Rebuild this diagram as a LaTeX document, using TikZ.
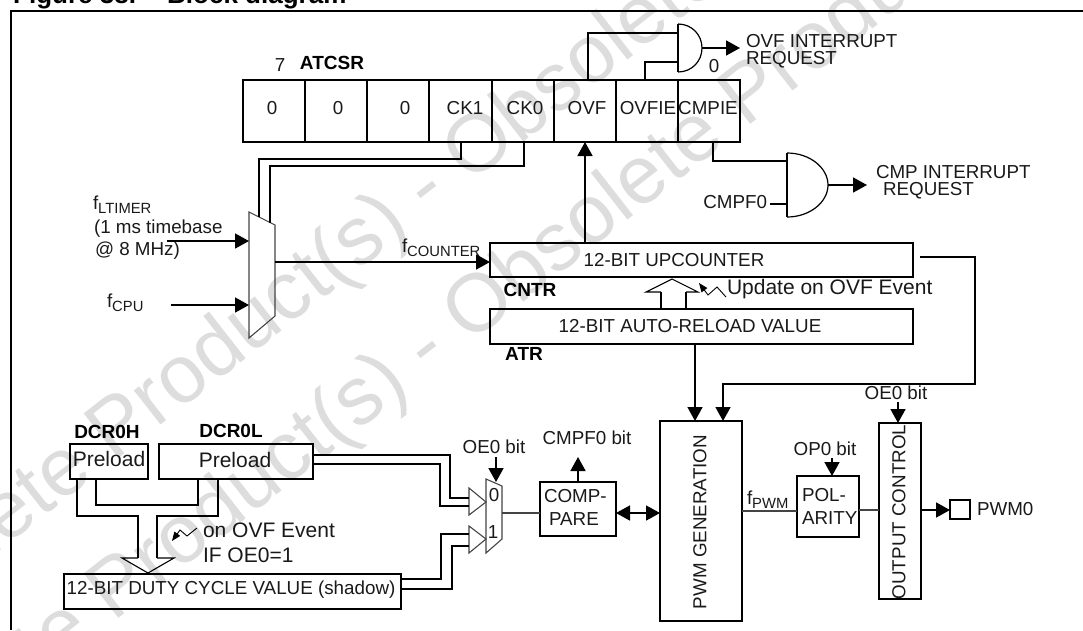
\documentclass[tikz,border=0pt]{standalone}
\usepackage{fontspec}
\setmainfont{Liberation Sans}
\usetikzlibrary{arrows.meta}
\definecolor{wm}{HTML}{DDDDDD}
\definecolor{thinc}{HTML}{444444}
\newcommand{\lowsub}[1]{\raisebox{-4.5pt}{\fontsize{14.8}{18}\selectfont #1}}
\tikzset{
  x=1pt,y=-1pt,
  box/.style={draw=black,line width=1.7pt,inner sep=0pt,outer sep=0pt,align=center,font=\fontsize{19}{22}\selectfont},
  lbl/.style={inner sep=0pt,outer sep=0pt,font=\fontsize{18.8}{22}\selectfont,text=black!90},
  biglbl/.style={lbl,font=\fontsize{21}{24}\selectfont},
  blbl/.style={inner sep=0pt,outer sep=0pt,font=\fontsize{19}{22}\selectfont\bfseries},
  wire/.style={line width=1.7pt,line join=miter},
  sig/.style={wire,-{Triangle[length=14pt,width=15pt]}},
  sigb/.style={wire,{Triangle[length=14pt,width=15pt]}-{Triangle[length=14pt,width=15pt]}},
  thinw/.style={line width=1.1pt,draw=thinc},
  zig/.style={line width=.9pt,-{Triangle[length=9pt,width=7pt]}},
  wmark/.style={inner sep=0pt,outer sep=0pt,text=wm,rotate=38,anchor=west,font=\fontsize{82}{90}\selectfont},
}
\begin{document}
\begin{tikzpicture}
\useasboundingbox (0,0) rectangle (1083,630);
% watermark
\node[wmark] (w1) at (-176,661.5) {Obsolete Product(s) - Obsolete Product(s)};
\node[wmark] (w2) at (-176,821.5) {Obsolete Product(s) - Obsolete Product(s)};
% frame
\node[anchor=base west,inner sep=0pt,font=\fontsize{26}{28}\selectfont\bfseries] (title) at (13,3) {Figure 38.\hspace{1.2em}Block diagram};
\coordinate (fTL) at (11,11); \coordinate (fTR) at (1083,11); \coordinate (fBL) at (11,630);
\draw[wire] (fBL) -- (fTL) -- (fTR);
% ATCSR
\foreach \nm/\xa in {r7/274,r6/336,r5/398,r4/460.5,r3/523,r2/585,r1/647,r0/709}{
  \node[box,minimum width=62pt,minimum height=62pt] (\nm) at (\xa,111) {};
}
\node[lbl] (t7) at (272,108) {0};
\node[lbl] (t6) at (338,108) {0};
\node[lbl] (t5) at (405,108) {0};
\node[lbl] (t4) at (465,108) {CK1};
\node[lbl] (t3) at (525,108) {CK0};
\node[lbl] (t2) at (587,108) {OVF};
\node[lbl] (t1) at (648,108) {OVFIE};
\node[lbl] (t0) at (708,108) {CMPIE};
\node[lbl] (seven) at (280,65) {7};
\node[blbl] (atcsr) at (332,63) {ATCSR};
% clock mux
\coordinate (ma) at (249,212); \coordinate (mb) at (275,225); \coordinate (mc) at (275,316); \coordinate (md) at (249,338);
\draw[thinw] (ma) -- (mb) -- (mc) -- (md) -- cycle;
\coordinate (ck1a) at (461,142); \coordinate (ck1b) at (461,159); \coordinate (ck1c) at (259,159); \coordinate (ck1d) at (259,217);
\coordinate (ck0a) at (524,142); \coordinate (ck0b) at (524,166); \coordinate (ck0c) at (270,166); \coordinate (ck0d) at (270,223);
\draw[wire] (ck1a) -- (ck1b) -- (ck1c) -- (ck1d);
\draw[wire] (ck0a) -- (ck0b) -- (ck0c) -- (ck0d);
\node[lbl,anchor=base west] (ltimer) at (93,209) {f\lowsub{LTIMER}};
\node[lbl,anchor=west] (ltimer2) at (94,229) {(1 ms timebase};
\node[lbl,anchor=west] (ltimer3) at (95,251) {@ 8 MHz)};
\node[lbl,anchor=base west] (fcpu) at (107,307) {f\lowsub{CPU}};
\coordinate (la) at (167,241); \coordinate (lb) at (249,241);
\coordinate (ca) at (171,305); \coordinate (cb) at (249,305);
\draw[sig] (la) -- (lb);
\draw[sig] (ca) -- (cb);
% counter
\node[box,minimum width=423pt,minimum height=34pt] (cntr) at (701.5,260) {};
\node[lbl] (cntrt) at (674,260) {12-BIT UPCOUNTER};
\node[box,minimum width=423pt,minimum height=35pt] (atr) at (701.5,326.5) {};
\node[lbl] (atrt) at (690,326) {12-BIT AUTO-RELOAD VALUE};
\node[blbl] (cntrl) at (530,290) {CNTR};
\node[blbl] (atrl) at (524,354) {ATR};
\coordinate (mo) at (275,262);
\draw[sig] (mo) -- (cntr.west |- mo);
\node[lbl,anchor=base west] (fcnt) at (402,252) {f\lowsub{COUNTER}};
\coordinate (ovfin) at (585,243); \coordinate (ovfout) at (585,142);
\draw[sig] (ovfin) -- (ovfout);
% hollow arrow
\coordinate (ha) at (661,309); \coordinate (hb) at (661,292); \coordinate (hc) at (646,292); \coordinate (hd) at (672,279); \coordinate (he) at (698,292); \coordinate (hf) at (686,292); \coordinate (hg) at (686,309);
\draw[wire] (ha) -- (hb);\draw[wire] (hf) -- (hg);
\draw[thinw,draw=black] (hb) -- (hc) -- (hd) -- (he) -- (hf);
\coordinate (za) at (726,297); \coordinate (zb) at (717,287); \coordinate (zc) at (708,295); \coordinate (zd) at (699,283);
\draw[zig] (za) -- (zb) -- (zc) -- (zd);
\node[biglbl,anchor=west] (upd) at (727,289) {Update on OVF Event};
% right loop
\coordinate (ra) at (920,257); \coordinate (rb) at (975,257); \coordinate (rc) at (975,384); \coordinate (rd) at (723,384);
\node[box,minimum width=82pt,minimum height=200pt] (pwm) at (701,521) {};
\node[lbl,rotate=90] (pwmt) at (700,522) {PWM GENERATION};
\draw[sig] (ra) -- (rb) -- (rc) -- (rd) -- (rd |- pwm.north);
\coordinate (atro) at (695,344);
\draw[sig] (atro) -- (atro |- pwm.north);
% output control
\node[box,minimum width=42pt,minimum height=176pt] (oc) at (900,511) {};
\node[lbl,rotate=90] (oct) at (899,512) {OUTPUT CONTROL};
\node[lbl] (oe1) at (896,393) {OE0 bit};
\coordinate (oea) at (898,402);
\draw[sig] (oea) -- (oea |- oc.north);
% polarity
\node[box,minimum width=62pt,minimum height=61pt] (pol) at (828,506.5) {};
\node[lbl,anchor=west] (polt) at (802,495) {POL-};
\node[lbl,anchor=west] (polt2) at (802,518) {ARITY};
\node[lbl] (op0) at (825,449) {OP0 bit};
\coordinate (opa) at (832,458);
\draw[sig] (opa) -- (opa |- pol.north);
\coordinate (pwo) at (742,511);
\draw[thinw] (pwo) -- (pwo -| pol.west);
\node[lbl,anchor=base west] (fpwm) at (747,504) {f\lowsub{PWM}};
\coordinate (polo) at (859,510);
\draw[thinw] (polo) -- (polo -| oc.west);
\node[box,minimum width=20pt,minimum height=19pt] (pad) at (960,509.5) {};
\node[lbl,anchor=west] (padt) at (977,509) {PWM0};
\coordinate (oco) at (921,510);
\draw[sig] (oco) -- (oco -| pad.west);
% compare
\node[box,minimum width=76pt,minimum height=54pt] (cmp) at (578,509) {};
\node[lbl,anchor=west] (cmpt) at (544,496) {COMP-};
\node[lbl,anchor=west] (cmpt2) at (549,519) {PARE};
\coordinate (cmo) at (616,513); \coordinate (pwi) at (660,513);
\draw[sigb] (cmo) -- (pwi);
\coordinate (cfb) at (578,457);
\draw[sig] (cmp.north -| cfb) -- (cfb);
\node[lbl] (cmpf) at (587,438) {CMPF0 bit};
% data mux
\node[lbl] (oe2) at (494,447) {OE0 bit};
\coordinate (oeb) at (496,457); \coordinate (oec) at (496,482);
\draw[sig] (oeb) -- (oec);
\coordinate (na) at (486,479); \coordinate (nb) at (502,486); \coordinate (nc) at (502,539); \coordinate (nd) at (486,553);
\draw[thinw] (na) -- (nb) -- (nc) -- (nd) -- cycle;
\node[lbl] (m0) at (494,495) {0};
\node[lbl] (m1) at (493,532) {1};
\coordinate (nout) at (502,513);
\draw[thinw] (nout) -- (nout -| cmp.west);
\coordinate (t1a) at (469,488); \coordinate (t1b) at (486,502); \coordinate (t1c) at (469,515);
\coordinate (t2a) at (469,526); \coordinate (t2b) at (486,539); \coordinate (t2c) at (469,553);
\draw[thinw] (t1a) -- (t1b) -- (t1c) -- cycle;
\draw[thinw] (t2a) -- (t2b) -- (t2c) -- cycle;
% DCR
\node[box,minimum width=78pt,minimum height=35pt] (dh) at (109,461.5) {};
\node[biglbl] (dht) at (109,459) {Preload};
\node[box,minimum width=154pt,minimum height=35pt] (dl) at (236,461.5) {};
\node[biglbl] (dlt) at (235,460) {Preload};
\node[blbl] (dhl) at (107,432) {DCR0H};
\node[blbl] (dll) at (231,431) {DCR0L};
\node[box,minimum width=337pt,minimum height=35pt] (dty) at (232.5,591.5) {};
\node[lbl] (dtyt) at (231,590) {12-BIT DUTY CYCLE VALUE (shadow)};
\coordinate (a1) at (313,455); \coordinate (a2) at (450,455); \coordinate (a3) at (450,498); \coordinate (a4) at (469,498);
\coordinate (b1) at (313,464); \coordinate (b2) at (440,464); \coordinate (b3) at (440,506); \coordinate (b4) at (469,506);
\coordinate (c1) at (401,579); \coordinate (c2) at (441,579); \coordinate (c3) at (441,534); \coordinate (c4) at (469,534);
\coordinate (d1) at (401,589); \coordinate (d2) at (452,589); \coordinate (d3) at (452,546); \coordinate (d4) at (469,546);
\draw[wire] (a1) -- (a2) -- (a3) -- (a4);
\draw[wire] (b1) -- (b2) -- (b3) -- (b4);
\draw[wire] (c1) -- (c2) -- (c3) -- (c4);
\draw[wire] (d1) -- (d2) -- (d3) -- (d4);
% hollow bus
\coordinate (e1) at (77,479); \coordinate (e2) at (77,516); \coordinate (e3) at (138,516); \coordinate (e4) at (138,558);
\coordinate (e5) at (122,558); \coordinate (e6) at (148,573); \coordinate (e7) at (174,558); \coordinate (e8) at (157,558);
\coordinate (e9) at (157,516); \coordinate (e10) at (218,516); \coordinate (e11) at (218,479);
\coordinate (f1) at (96,479); \coordinate (f2) at (96,505); \coordinate (f3) at (198,505); \coordinate (f4) at (198,479);
\draw[wire] (e1) -- (e2) -- (e3) -- (e4);
\draw[thinw,draw=black] (e4) -- (e5) -- (e6) -- (e7) -- (e8);
\draw[wire] (e8) -- (e9) -- (e10) -- (e11);
\draw[wire] (f1) -- (f2) -- (f3) -- (f4);
\coordinate (g1) at (197,528); \coordinate (g2) at (187,536); \coordinate (g3) at (180,530); \coordinate (g4) at (172,541);
\draw[zig] (g1) -- (g2) -- (g3) -- (g4);
\node[biglbl,anchor=west] (ev1) at (203,530) {on OVF Event};
\node[biglbl,anchor=west] (ev2) at (203,555) {IF OE0=1};
% OVF gate
\coordinate (ga) at (678,24); \coordinate (gb) at (678,72); \coordinate (gc) at (702,48);
\draw[wire] (ga) -- (gb);
\draw[wire,line width=1.2pt] (ga) .. controls (692,24) and (702,35) .. (gc) .. controls (702,61) and (692,72) .. (gb);
\coordinate (i1) at (588,80); \coordinate (i2) at (588,33); \coordinate (i3) at (678,33);
\coordinate (j1) at (645,80); \coordinate (j2) at (645,62); \coordinate (j3) at (678,62);
\draw[wire] (i1) -- (i2) -- (i3);
\draw[wire] (j1) -- (j2) -- (j3);
\coordinate (go) at (740,48);
\draw[sig] (gc) -- (go);
\node[lbl,anchor=west] (ovfr) at (746,41) {OVF INTERRUPT};
\node[lbl,anchor=west] (ovfr2) at (746,60) {REQUEST};
\node[lbl] (zero) at (714,66) {0};
% CMP gate
\coordinate (ha1) at (787,153); \coordinate (hb1) at (787,217); \coordinate (hc1) at (828,185);
\draw[wire] (ha1) -- (hb1);
\draw[wire,line width=1.2pt] (ha1) .. controls (810,153) and (828,168) .. (hc1) .. controls (828,202) and (810,217) .. (hb1);
\coordinate (k1) at (713,142); \coordinate (k2) at (713,161); \coordinate (k3) at (787,161);
\draw[wire] (k1) -- (k2) -- (k3);
\coordinate (l1) at (770,204); \coordinate (l2) at (787,204);
\draw[wire] (l1) -- (l2);
\node[lbl,anchor=east] (cmpf0) at (767,202) {CMPF0};
\coordinate (hout) at (867,185);
\draw[sig] (hc1) -- (hout);
\node[lbl,anchor=west] (cmr) at (876,172) {CMP INTERRUPT};
\node[lbl,anchor=west] (cmr2) at (883,191) {REQUEST};
\end{tikzpicture}
\end{document}
